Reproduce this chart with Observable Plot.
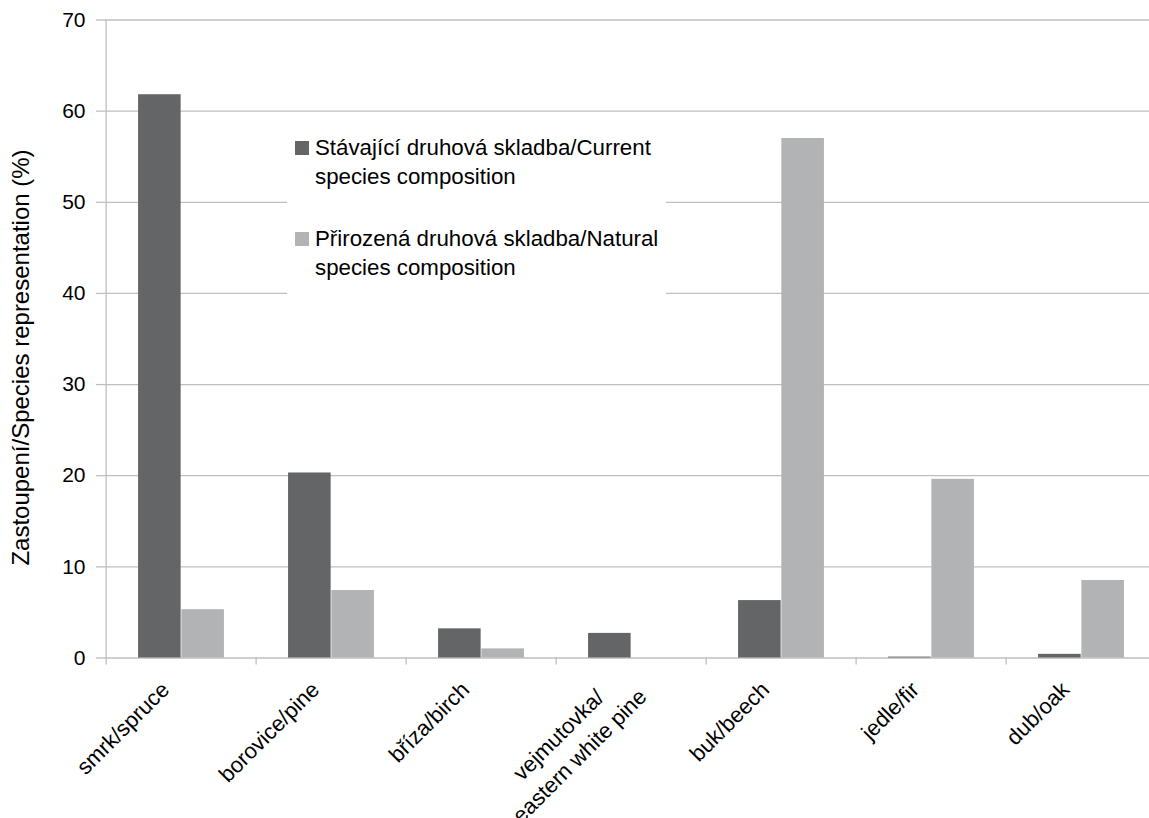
<!DOCTYPE html>
<html>
<head>
<meta charset="utf-8">
<script src="https://cdn.jsdelivr.net/npm/d3@7"></script>
<script src="https://cdn.jsdelivr.net/npm/@observablehq/plot@0.6"></script>
<style>
  body { margin: 0; background: #fff; font-family: "Liberation Sans", Arial, sans-serif; }
  #chart { position: relative; width: 1149px; height: 818px; overflow: hidden; }
  #chart svg { position: absolute; left: 0; top: 0; }
  #legend { position: absolute; left: 287px; top: 120px; width: 379px; height: 180px; background: #fff; }
  .swatch { position: absolute; left: 8px; width: 14px; height: 14px; }
  .entry { position: absolute; left: 28px; font-size: 22.3px; line-height: 29px; color: #000; white-space: nowrap; }
</style>
</head>
<body>
<div id="chart"></div>
<script>
// Tree species (Czech/English) and their share of the stand, in percent
const species = ["smrk", "borovice", "briza", "vejmutovka", "buk", "jedle", "dub"];
const labels = ["smrk/spruce", "borovice/pine", "bříza/birch", "vejmutovka/\neastern white pine", "buk/beech", "jedle/fir", "dub/oak"];
const current = [61.8, 20.3, 3.2, 2.7, 6.3, 0.1, 0.4];
const natural = [5.3, 7.4, 1.0, 0, 57.0, 19.6, 8.5];
const yTicks = [0, 10, 20, 30, 40, 50, 60, 70];
const seriesNames = ["Stávající druhová skladba/Current\nspecies composition", "Přirozená druhová skladba/Natural\nspecies composition"];
const yTitle = "Zastoupení/Species representation (%)";

const colors = ["#646567", "#b2b3b5"];
const grid = "#bfbfbf";
const font = '"Liberation Sans", Arial, sans-serif';

const rows = species.map((s, i) => ({species: s, label: labels[i], current: current[i], natural: natural[i]}));
const xRange = [103, 1158];
const bw = (xRange[1] - xRange[0]) / species.length;
const barW = 43.3;

const chart = Plot.plot({
  width: 1149,
  height: 818,
  marginLeft: 103,
  marginRight: 0,
  marginTop: 19.5,
  marginBottom: 160.5,
  style: {fontFamily: font, fontSize: "21px", color: "#000", background: "#fff", overflow: "hidden"},
  x: {type: "band", domain: species, range: xRange, padding: 0},
  y: {domain: [0, 70], range: [657.5, 19.5]},
  marks: [
    Plot.ruleY(yTicks, {stroke: grid, strokeWidth: 1.3}),
    Plot.ruleX([species[0]], {x: d => d, y1: 0, y2: 70, dx: -bw / 2, stroke: grid, strokeWidth: 1.3}),
    Plot.axisY({ticks: yTicks, tickSize: 7, tickPadding: 11, stroke: grid, strokeWidth: 1.3, fill: "#000", fontSize: 21, label: null}),
    Plot.axisX({tickSize: 7, tickFormat: () => "", dx: -bw / 2, stroke: grid, strokeWidth: 1.3, label: null}),
    Plot.barY(rows, {x: "species", y: "current", fill: colors[0], insetLeft: bw / 2 - barW, insetRight: bw / 2}),
    Plot.barY(rows, {x: "species", y: "natural", fill: colors[1], insetLeft: bw / 2, insetRight: bw / 2 - barW}),
    // single-line category labels, end-anchored under each group
    Plot.text(rows.filter(d => !d.label.includes("\n")), {
      x: "species", frameAnchor: "bottom", text: "label", rotate: -45,
      textAnchor: "end", lineAnchor: "top", dx: -22, dy: 22, fontSize: 22, fill: "#000"
    }),
    // two-line category label, lines centred on each other
    Plot.text(rows.filter(d => d.label.includes("\n")), {
      x: "species", frameAnchor: "bottom", text: "label", rotate: -45,
      textAnchor: "middle", lineAnchor: "middle", lineHeight: 1.35, dx: -64, dy: 86, fontSize: 22, fill: "#000"
    }),
    Plot.text([yTitle], {frameAnchor: "left", textAnchor: "middle", dx: -82, dy: 18.5, rotate: -90, fontSize: 24, fill: "#000"})
  ]
});

const root = document.getElementById("chart");
root.appendChild(chart);

// legend box laid over the plot area
const legend = document.createElement("div");
legend.id = "legend";
const entryTops = [13, 104];
seriesNames.forEach((name, i) => {
  const sw = document.createElement("div");
  sw.className = "swatch";
  sw.style.top = (entryTops[i] + 8) + "px";
  sw.style.background = colors[i];
  legend.appendChild(sw);
  const t = document.createElement("div");
  t.className = "entry";
  t.style.top = entryTops[i] + "px";
  name.split("\n").forEach((line, j) => {
    if (j) t.appendChild(document.createElement("br"));
    t.appendChild(document.createTextNode(line));
  });
  legend.appendChild(t);
});
root.appendChild(legend);
</script>
</body>
</html>
